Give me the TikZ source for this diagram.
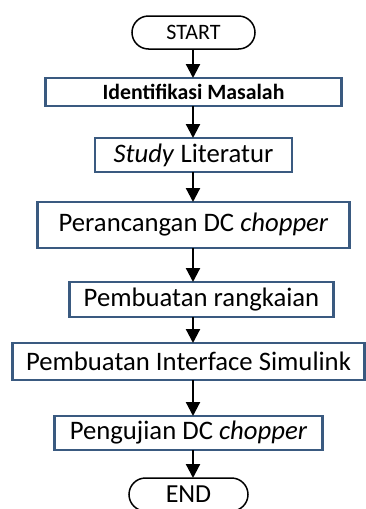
\documentclass[tikz,border=0pt]{standalone}
\usepackage{fontspec}
\setmainfont{Carlito}
\usepackage{tikz}
\usetikzlibrary{positioning}
\usetikzlibrary{shapes.misc,arrows.meta}
\definecolor{boxblue}{HTML}{3A5A80}
\tikzstyle{block} = [rectangle, draw=boxblue, line width=2.2pt, outer sep=0pt,
                text centered, inner sep=2pt, font=\fontsize{26.7}{28}\selectfont]
\tikzstyle{terminal} = [rounded rectangle, draw=black, line width=1.5pt, outer sep=0pt,
                inner sep=0pt, minimum height=33pt]
\tikzstyle{line} = [draw, line width=2.2pt, -{Triangle[width=14pt,length=14pt]}]

\begin{document}
\begin{tikzpicture}
        \useasboundingbox (0,0) rectangle (365pt,-509pt);
        \coordinate (axis) at (193pt,0);
        \node[terminal, minimum width=123pt, font=\fontsize{22}{24}\selectfont](start) at (193.5pt,-32.5pt){START};
        \node[block, below=29pt of start, minimum width=296pt, minimum height=28pt, font=\fontsize{21.8}{23}\selectfont\bfseries](ident){Identifikasi Masalah};
        \node[block, below=32pt of ident, minimum width=197pt, minimum height=34pt](study){\textit{Study} Literatur};
        \node[block, below=30pt of study, minimum width=312pt, minimum height=46pt](peran){Perancangan DC \textit{chopper}};
        \node[block, below=34pt of peran, xshift=8pt, minimum width=264pt, minimum height=35pt](rangk){Pembuatan rangkaian};
        \node[block, below=26pt of rangk, xshift=-13pt, minimum width=352pt, minimum height=37pt](interf){Pembuatan Interface Simulink};
        \node[block, below=36pt of interf, minimum width=268pt, minimum height=34pt](uji){Pengujian DC \textit{chopper}};
        \node[terminal, below=28pt of uji, minimum width=119pt, font=\fontsize{26}{28}\selectfont](end){END};
        \path[line] (axis |- start.south) -- (axis |- ident.north);
        \path[line] (axis |- ident.south) -- (axis |- study.north);
        \path[line] (axis |- study.south) -- (axis |- peran.north);
        \path[line] (axis |- peran.south) -- (axis |- rangk.north);
        \path[line] (axis |- rangk.south) -- (axis |- interf.north);
        \path[line] (axis |- interf.south) -- (axis |- uji.north);
        \path[line] (axis |- uji.south) -- (axis |- end.north);
\end{tikzpicture}
\end{document}
